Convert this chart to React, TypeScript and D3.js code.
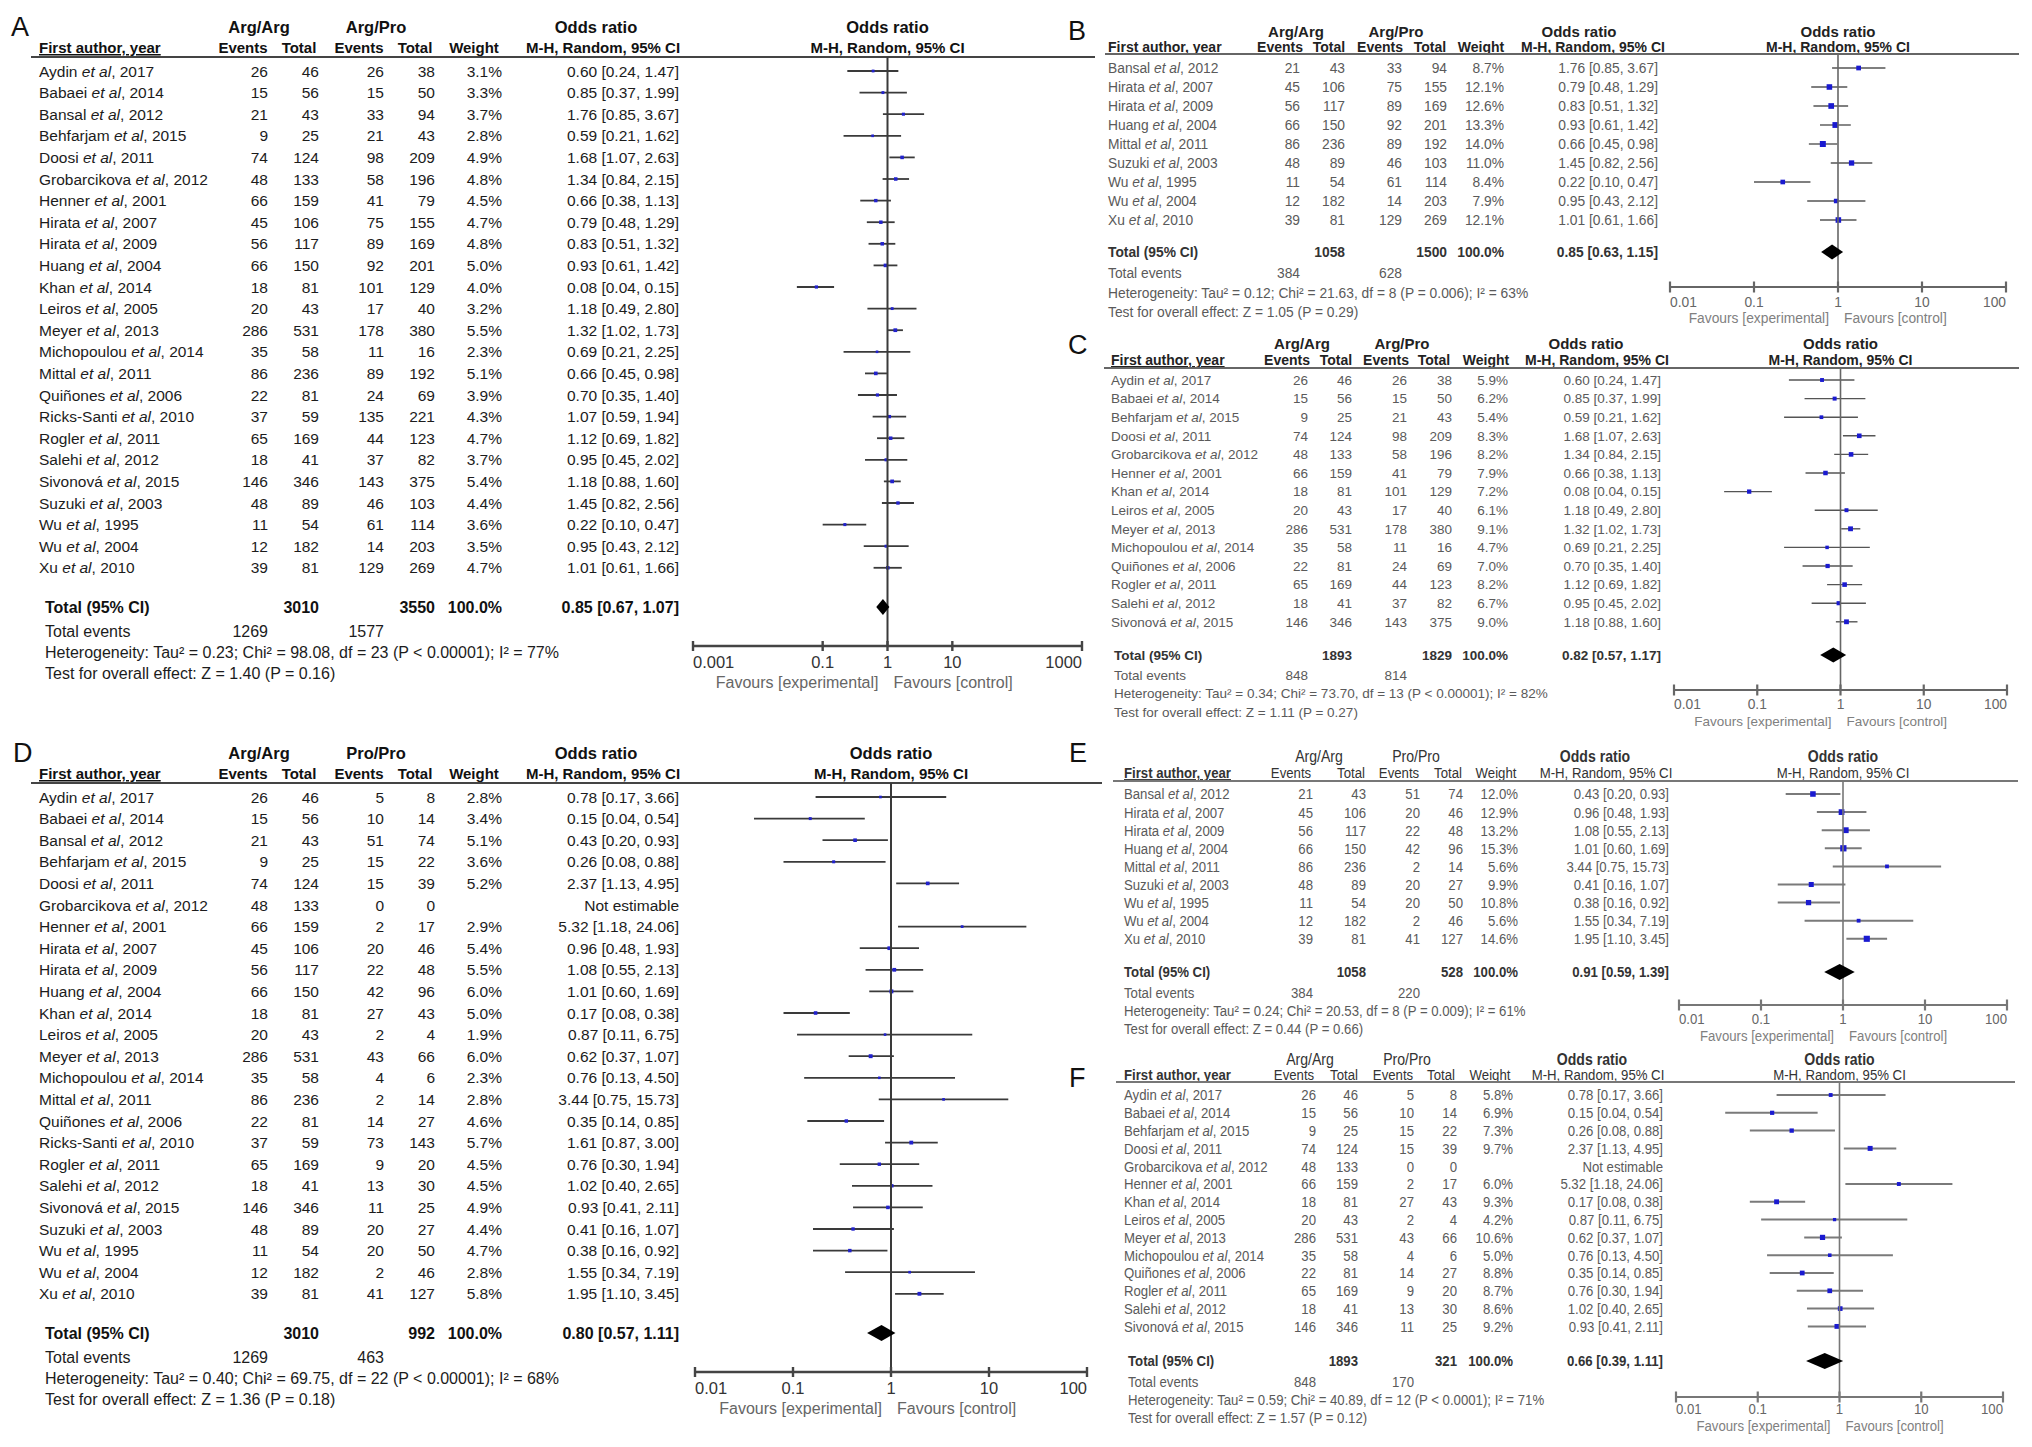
import React from 'react';
import * as d3 from 'd3';

// ---------- DATA ----------
// [author, year, events1, total1, events2, total2, weight%, OR, lower, upper]
type Row = [string, number, number, number, number, number, number | null, number | null, number | null, number | null];

const rowsA: Row[] = [
  ['Aydin', 2017, 26, 46, 26, 38, 3.1, 0.60, 0.24, 1.47],
  ['Babaei', 2014, 15, 56, 15, 50, 3.3, 0.85, 0.37, 1.99],
  ['Bansal', 2012, 21, 43, 33, 94, 3.7, 1.76, 0.85, 3.67],
  ['Behfarjam', 2015, 9, 25, 21, 43, 2.8, 0.59, 0.21, 1.62],
  ['Doosi', 2011, 74, 124, 98, 209, 4.9, 1.68, 1.07, 2.63],
  ['Grobarcikova', 2012, 48, 133, 58, 196, 4.8, 1.34, 0.84, 2.15],
  ['Henner', 2001, 66, 159, 41, 79, 4.5, 0.66, 0.38, 1.13],
  ['Hirata', 2007, 45, 106, 75, 155, 4.7, 0.79, 0.48, 1.29],
  ['Hirata', 2009, 56, 117, 89, 169, 4.8, 0.83, 0.51, 1.32],
  ['Huang', 2004, 66, 150, 92, 201, 5.0, 0.93, 0.61, 1.42],
  ['Khan', 2014, 18, 81, 101, 129, 4.0, 0.08, 0.04, 0.15],
  ['Leiros', 2005, 20, 43, 17, 40, 3.2, 1.18, 0.49, 2.80],
  ['Meyer', 2013, 286, 531, 178, 380, 5.5, 1.32, 1.02, 1.73],
  ['Michopoulou', 2014, 35, 58, 11, 16, 2.3, 0.69, 0.21, 2.25],
  ['Mittal', 2011, 86, 236, 89, 192, 5.1, 0.66, 0.45, 0.98],
  ['Quiñones', 2006, 22, 81, 24, 69, 3.9, 0.70, 0.35, 1.40],
  ['Ricks-Santi', 2010, 37, 59, 135, 221, 4.3, 1.07, 0.59, 1.94],
  ['Rogler', 2011, 65, 169, 44, 123, 4.7, 1.12, 0.69, 1.82],
  ['Salehi', 2012, 18, 41, 37, 82, 3.7, 0.95, 0.45, 2.02],
  ['Sivonová', 2015, 146, 346, 143, 375, 5.4, 1.18, 0.88, 1.60],
  ['Suzuki', 2003, 48, 89, 46, 103, 4.4, 1.45, 0.82, 2.56],
  ['Wu', 1995, 11, 54, 61, 114, 3.6, 0.22, 0.10, 0.47],
  ['Wu', 2004, 12, 182, 14, 203, 3.5, 0.95, 0.43, 2.12],
  ['Xu', 2010, 39, 81, 129, 269, 4.7, 1.01, 0.61, 1.66],
];
const totalsA = [3010, 3550, 100.0, 0.85, 0.67, 1.07];
const eventsA = [1269, 1577];
const hetA = 'Heterogeneity: Tau² = 0.23; Chi² = 98.08, df = 23 (P < 0.00001); I² = 77%';
const testA = 'Test for overall effect: Z = 1.40 (P = 0.16)';

const rowsB: Row[] = [
  ['Bansal', 2012, 21, 43, 33, 94, 8.7, 1.76, 0.85, 3.67],
  ['Hirata', 2007, 45, 106, 75, 155, 12.1, 0.79, 0.48, 1.29],
  ['Hirata', 2009, 56, 117, 89, 169, 12.6, 0.83, 0.51, 1.32],
  ['Huang', 2004, 66, 150, 92, 201, 13.3, 0.93, 0.61, 1.42],
  ['Mittal', 2011, 86, 236, 89, 192, 14.0, 0.66, 0.45, 0.98],
  ['Suzuki', 2003, 48, 89, 46, 103, 11.0, 1.45, 0.82, 2.56],
  ['Wu', 1995, 11, 54, 61, 114, 8.4, 0.22, 0.10, 0.47],
  ['Wu', 2004, 12, 182, 14, 203, 7.9, 0.95, 0.43, 2.12],
  ['Xu', 2010, 39, 81, 129, 269, 12.1, 1.01, 0.61, 1.66],
];
const totalsB = [1058, 1500, 100.0, 0.85, 0.63, 1.15];
const eventsB = [384, 628];
const hetB = 'Heterogeneity: Tau² = 0.12; Chi² = 21.63, df = 8 (P = 0.006); I² = 63%';
const testB = 'Test for overall effect: Z = 1.05 (P = 0.29)';

const rowsC: Row[] = [
  ['Aydin', 2017, 26, 46, 26, 38, 5.9, 0.60, 0.24, 1.47],
  ['Babaei', 2014, 15, 56, 15, 50, 6.2, 0.85, 0.37, 1.99],
  ['Behfarjam', 2015, 9, 25, 21, 43, 5.4, 0.59, 0.21, 1.62],
  ['Doosi', 2011, 74, 124, 98, 209, 8.3, 1.68, 1.07, 2.63],
  ['Grobarcikova', 2012, 48, 133, 58, 196, 8.2, 1.34, 0.84, 2.15],
  ['Henner', 2001, 66, 159, 41, 79, 7.9, 0.66, 0.38, 1.13],
  ['Khan', 2014, 18, 81, 101, 129, 7.2, 0.08, 0.04, 0.15],
  ['Leiros', 2005, 20, 43, 17, 40, 6.1, 1.18, 0.49, 2.80],
  ['Meyer', 2013, 286, 531, 178, 380, 9.1, 1.32, 1.02, 1.73],
  ['Michopoulou', 2014, 35, 58, 11, 16, 4.7, 0.69, 0.21, 2.25],
  ['Quiñones', 2006, 22, 81, 24, 69, 7.0, 0.70, 0.35, 1.40],
  ['Rogler', 2011, 65, 169, 44, 123, 8.2, 1.12, 0.69, 1.82],
  ['Salehi', 2012, 18, 41, 37, 82, 6.7, 0.95, 0.45, 2.02],
  ['Sivonová', 2015, 146, 346, 143, 375, 9.0, 1.18, 0.88, 1.60],
];
const totalsC = [1893, 1829, 100.0, 0.82, 0.57, 1.17];
const eventsC = [848, 814];
const hetC = 'Heterogeneity: Tau² = 0.34; Chi² = 73.70, df = 13 (P < 0.00001); I² = 82%';
const testC = 'Test for overall effect: Z = 1.11 (P = 0.27)';

const rowsD: Row[] = [
  ['Aydin', 2017, 26, 46, 5, 8, 2.8, 0.78, 0.17, 3.66],
  ['Babaei', 2014, 15, 56, 10, 14, 3.4, 0.15, 0.04, 0.54],
  ['Bansal', 2012, 21, 43, 51, 74, 5.1, 0.43, 0.20, 0.93],
  ['Behfarjam', 2015, 9, 25, 15, 22, 3.6, 0.26, 0.08, 0.88],
  ['Doosi', 2011, 74, 124, 15, 39, 5.2, 2.37, 1.13, 4.95],
  ['Grobarcikova', 2012, 48, 133, 0, 0, null, null, null, null],
  ['Henner', 2001, 66, 159, 2, 17, 2.9, 5.32, 1.18, 24.06],
  ['Hirata', 2007, 45, 106, 20, 46, 5.4, 0.96, 0.48, 1.93],
  ['Hirata', 2009, 56, 117, 22, 48, 5.5, 1.08, 0.55, 2.13],
  ['Huang', 2004, 66, 150, 42, 96, 6.0, 1.01, 0.60, 1.69],
  ['Khan', 2014, 18, 81, 27, 43, 5.0, 0.17, 0.08, 0.38],
  ['Leiros', 2005, 20, 43, 2, 4, 1.9, 0.87, 0.11, 6.75],
  ['Meyer', 2013, 286, 531, 43, 66, 6.0, 0.62, 0.37, 1.07],
  ['Michopoulou', 2014, 35, 58, 4, 6, 2.3, 0.76, 0.13, 4.50],
  ['Mittal', 2011, 86, 236, 2, 14, 2.8, 3.44, 0.75, 15.73],
  ['Quiñones', 2006, 22, 81, 14, 27, 4.6, 0.35, 0.14, 0.85],
  ['Ricks-Santi', 2010, 37, 59, 73, 143, 5.7, 1.61, 0.87, 3.00],
  ['Rogler', 2011, 65, 169, 9, 20, 4.5, 0.76, 0.30, 1.94],
  ['Salehi', 2012, 18, 41, 13, 30, 4.5, 1.02, 0.40, 2.65],
  ['Sivonová', 2015, 146, 346, 11, 25, 4.9, 0.93, 0.41, 2.11],
  ['Suzuki', 2003, 48, 89, 20, 27, 4.4, 0.41, 0.16, 1.07],
  ['Wu', 1995, 11, 54, 20, 50, 4.7, 0.38, 0.16, 0.92],
  ['Wu', 2004, 12, 182, 2, 46, 2.8, 1.55, 0.34, 7.19],
  ['Xu', 2010, 39, 81, 41, 127, 5.8, 1.95, 1.10, 3.45],
];
const totalsD = [3010, 992, 100.0, 0.80, 0.57, 1.11];
const eventsD = [1269, 463];
const hetD = 'Heterogeneity: Tau² = 0.40; Chi² = 69.75, df = 22 (P < 0.00001); I² = 68%';
const testD = 'Test for overall effect: Z = 1.36 (P = 0.18)';

const rowsE: Row[] = [
  ['Bansal', 2012, 21, 43, 51, 74, 12.0, 0.43, 0.20, 0.93],
  ['Hirata', 2007, 45, 106, 20, 46, 12.9, 0.96, 0.48, 1.93],
  ['Hirata', 2009, 56, 117, 22, 48, 13.2, 1.08, 0.55, 2.13],
  ['Huang', 2004, 66, 150, 42, 96, 15.3, 1.01, 0.60, 1.69],
  ['Mittal', 2011, 86, 236, 2, 14, 5.6, 3.44, 0.75, 15.73],
  ['Suzuki', 2003, 48, 89, 20, 27, 9.9, 0.41, 0.16, 1.07],
  ['Wu', 1995, 11, 54, 20, 50, 10.8, 0.38, 0.16, 0.92],
  ['Wu', 2004, 12, 182, 2, 46, 5.6, 1.55, 0.34, 7.19],
  ['Xu', 2010, 39, 81, 41, 127, 14.6, 1.95, 1.10, 3.45],
];
const totalsE = [1058, 528, 100.0, 0.91, 0.59, 1.39];
const eventsE = [384, 220];
const hetE = 'Heterogeneity: Tau² = 0.24; Chi² = 20.53, df = 8 (P = 0.009); I² = 61%';
const testE = 'Test for overall effect: Z = 0.44 (P = 0.66)';

const rowsF: Row[] = [
  ['Aydin', 2017, 26, 46, 5, 8, 5.8, 0.78, 0.17, 3.66],
  ['Babaei', 2014, 15, 56, 10, 14, 6.9, 0.15, 0.04, 0.54],
  ['Behfarjam', 2015, 9, 25, 15, 22, 7.3, 0.26, 0.08, 0.88],
  ['Doosi', 2011, 74, 124, 15, 39, 9.7, 2.37, 1.13, 4.95],
  ['Grobarcikova', 2012, 48, 133, 0, 0, null, null, null, null],
  ['Henner', 2001, 66, 159, 2, 17, 6.0, 5.32, 1.18, 24.06],
  ['Khan', 2014, 18, 81, 27, 43, 9.3, 0.17, 0.08, 0.38],
  ['Leiros', 2005, 20, 43, 2, 4, 4.2, 0.87, 0.11, 6.75],
  ['Meyer', 2013, 286, 531, 43, 66, 10.6, 0.62, 0.37, 1.07],
  ['Michopoulou', 2014, 35, 58, 4, 6, 5.0, 0.76, 0.13, 4.50],
  ['Quiñones', 2006, 22, 81, 14, 27, 8.8, 0.35, 0.14, 0.85],
  ['Rogler', 2011, 65, 169, 9, 20, 8.7, 0.76, 0.30, 1.94],
  ['Salehi', 2012, 18, 41, 13, 30, 8.6, 1.02, 0.40, 2.65],
  ['Sivonová', 2015, 146, 346, 11, 25, 9.2, 0.93, 0.41, 2.11],
];
const totalsF = [1893, 321, 100.0, 0.66, 0.39, 1.11];
const eventsF = [848, 170];
const hetF = 'Heterogeneity: Tau² = 0.59; Chi² = 40.89, df = 12 (P < 0.0001); I² = 71%';
const testF = 'Test for overall effect: Z = 1.57 (P = 0.12)';

const groupsArgPro = ['Arg/Arg', 'Arg/Pro'];
const groupsProPro = ['Arg/Arg', 'Pro/Pro'];
const ticksWide = [0.001, 0.1, 1, 10, 1000];
const ticksStd = [0.01, 0.1, 1, 10, 100];
const colHeaders = ['Events', 'Total', 'Events', 'Total', 'Weight'];
const favours = ['Favours [experimental]', 'Favours [control]'];

// ---------- LAYOUT ----------
type Style = {
  body: string; head: string; bold: string; fav: string; tick: string; ci: string; ciW: number;
  vline: string; vW: number; axis: string; axisW: number; marker: string; diamondH: number;
  groupW: string; colW: string;
};
const darkStyle: Style = {
  body: '#1c1c1c', head: '#111', bold: '#111', fav: '#666', tick: '#333', ci: '#3a3a3a', ciW: 1.8,
  vline: '#3a3a3a', vW: 2, axis: '#444', axisW: 2.4, marker: '#2222cc', diamondH: 8,
  groupW: 'bold', colW: 'bold',
};
const lightStyle: Style = {
  body: '#5a5a5a', head: '#222', bold: '#333', fav: '#808080', tick: '#666', ci: '#555', ciW: 1.4,
  vline: '#666', vW: 1.6, axis: '#666', axisW: 2.2, marker: '#1a1ad0', diamondH: 7.5,
  groupW: 'bold', colW: 'bold',
};
const greyStyle: Style = {
  ...lightStyle, ci: '#7a7a7a', ciW: 2, vline: '#777', axis: '#777', marker: '#1a1ad0', diamondH: 8,
  head: '#333', groupW: 'normal', colW: 'normal',
};

const layoutA = {
  label: 'A', lx: 11, ly: 36, lfs: 27,
  h1: 33, h2: 53, line: 57, lx0: 31, lx1: 1095,
  nameX: 39, footX: 45,
  cols: [268, 319, 384, 435, 502], ci: 679,
  hc: [243, 299, 359, 415, 474], mh: 603, g1: 259, g2: 376, or: 596,
  row0: 71, step: 21.6, totY: 607, evY: 631, hetY: 652, testY: 673,
  x0: 693, x1: 1082, axisY: 646, tickY: 668, favY: 688, tickLen: 5,
  fs: 15.5, footFs: 16, sx: 1, h1fs: 16.5, h2fs: 15, tickFs: 16.5, favFs: 16, style: darkStyle,
};
const dy = 726;
const layoutD = {
  ...layoutA, label: 'D', lx: 13, ly: layoutA.ly + dy,
  h1: layoutA.h1 + dy, h2: layoutA.h2 + dy, line: layoutA.line + dy, lx1: 1102,
  row0: layoutA.row0 + dy, totY: layoutA.totY + dy, evY: layoutA.evY + dy,
  hetY: layoutA.hetY + dy, testY: layoutA.testY + dy,
  x0: 695, x1: 1087, axisY: layoutA.axisY + dy, tickY: layoutA.tickY + dy, favY: layoutA.favY + dy,
};
const layoutB = {
  label: 'B', lx: 1068, ly: 40, lfs: 27,
  h1: 37, h2: 52, line: 54, lx0: 1105, lx1: 2019,
  nameX: 1108, footX: 1108,
  cols: [1300, 1345, 1402, 1447, 1504], ci: 1658,
  hc: [1280, 1329, 1380, 1430, 1481], mh: 1593, g1: 1296, g2: 1396, or: 1579,
  row0: 68, step: 19, totY: 252, evY: 273, hetY: 293, testY: 312,
  x0: 1670, x1: 2006, axisY: 287, tickY: 307, favY: 323, tickLen: 5.5,
  fs: 13.8, footFs: 13.8, sx: 1, h1fs: 15, h2fs: 14, tickFs: 13.8, favFs: 13.8, style: lightStyle,
};
const layoutC = {
  label: 'C', lx: 1068, ly: 354, lfs: 27,
  h1: 349, h2: 365, line: 368, lx0: 1104, lx1: 2019,
  nameX: 1111, footX: 1114,
  cols: [1308, 1352, 1407, 1452, 1508], ci: 1661,
  hc: [1287, 1336, 1386, 1434, 1486], mh: 1597, g1: 1302, g2: 1402, or: 1586,
  row0: 380, step: 18.6, totY: 655, evY: 675, hetY: 693, testY: 712,
  x0: 1674, x1: 2007, axisY: 690, tickY: 709, favY: 726, tickLen: 5.5,
  fs: 13.5, footFs: 13.5, sx: 1, h1fs: 15, h2fs: 14, tickFs: 13.8, favFs: 13.5, style: lightStyle,
};
const layoutE = {
  label: 'E', lx: 1069, ly: 762, lfs: 27,
  h1: 762, h2: 778, line: 781, lx0: 1113, lx1: 2018,
  nameX: 1124, footX: 1124,
  cols: [1313, 1366, 1420, 1463, 1518], ci: 1669,
  hc: [1291, 1351, 1399, 1448, 1496], mh: 1606, g1: 1319, g2: 1416, or: 1595,
  row0: 794, step: 18.1, totY: 972, evY: 993, hetY: 1011, testY: 1029,
  x0: 1679, x1: 2007, axisY: 1005, tickY: 1024, favY: 1041, tickLen: 5.5,
  fs: 15, footFs: 15, sx: 0.88, h1fs: 16, h2fs: 15, tickFs: 15, favFs: 15, style: greyStyle,
};
const layoutF = {
  label: 'F', lx: 1069, ly: 1087, lfs: 27,
  h1: 1065, h2: 1080, line: 1082, lx0: 1116, lx1: 2015,
  nameX: 1124, footX: 1128,
  cols: [1316, 1358, 1414, 1457, 1513], ci: 1663,
  hc: [1294, 1344, 1393, 1441, 1490], mh: 1598, g1: 1310, g2: 1407, or: 1592,
  row0: 1095, step: 17.8, totY: 1361, evY: 1382, hetY: 1400, testY: 1418,
  x0: 1676, x1: 2003, axisY: 1397, tickY: 1414, favY: 1431, tickLen: 5.5,
  fs: 15, footFs: 15, sx: 0.88, h1fs: 16, h2fs: 15, tickFs: 15, favFs: 15, style: greyStyle,
};

type Layout = typeof layoutB;

// ---------- COMPONENTS ----------
function T(props: {
  x: number; y: number; a?: 'start' | 'middle' | 'end'; fs: number; sx?: number; w?: string;
  c: string; deco?: string; children: React.ReactNode;
}) {
  const { x, y, a = 'start', fs, sx = 1, w = 'normal', c, deco, children } = props;
  return (
    <text transform={`translate(${x},${y}) scale(${sx},1)`} textAnchor={a} fontSize={fs}
      fontWeight={w} fill={c} textDecoration={deco}>{children}</text>
  );
}

const f2 = d3.format('.2f');
const f1 = d3.format('.1f');

function Panel(props: {
  L: Layout; rows: Row[]; totals: number[]; events: number[]; het: string; test: string;
  groups: string[]; ticks: number[];
}) {
  const { L, rows, totals, events, het, test, groups, ticks } = props;
  const S: Style = (L as any).style;
  const x = d3.scaleLog().domain([ticks[0], ticks[ticks.length - 1]]).range([L.x0, L.x1]);
  const y = d3.scaleLinear().domain([0, 1]).range([L.row0, L.row0 + L.step]);
  const bl = (c: number, f = L.fs) => c + f * 0.36;
  const ff = L.footFs;
  const one = x(1);
  const pc = (L.x0 + L.x1) / 2;
  const diamond = d3.line()([
    [x(totals[4]), L.totY], [x(totals[3]), L.totY - S.diamondH],
    [x(totals[5]), L.totY], [x(totals[3]), L.totY + S.diamondH],
  ]) + 'Z';

  return (
    <g>
      <T x={L.lx} y={L.ly} fs={L.lfs} c="#111">{L.label}</T>
      {/* header row 1 */}
      <T x={L.g1} y={L.h1} a="middle" fs={L.h1fs} w={S.groupW} c={S.head} sx={L.sx}>{groups[0]}</T>
      <T x={L.g2} y={L.h1} a="middle" fs={L.h1fs} w={S.groupW} c={S.head} sx={L.sx}>{groups[1]}</T>
      <T x={L.or} y={L.h1} a="middle" fs={L.h1fs} w="bold" c={S.head} sx={L.sx}>Odds ratio</T>
      <T x={pc} y={L.h1} a="middle" fs={L.h1fs} w="bold" c={S.head} sx={L.sx}>Odds ratio</T>
      {/* header row 2 */}
      <T x={L.nameX} y={L.h2} fs={L.h2fs} w="bold" c={S.head} sx={L.sx} deco="underline">First author, year</T>
      {colHeaders.map((h, i) => (
        <T key={i} x={L.hc[i]} y={L.h2} a="middle" fs={L.h2fs} w={S.colW} c={S.head} sx={L.sx}>{h}</T>
      ))}
      <T x={L.mh} y={L.h2} a="middle" fs={L.h2fs} w={S.colW} c={S.head} sx={L.sx}>M-H, Random, 95% CI</T>
      <T x={pc} y={L.h2} a="middle" fs={L.h2fs} w={S.colW} c={S.head} sx={L.sx}>M-H, Random, 95% CI</T>
      <line x1={L.lx0} x2={L.lx1} y1={L.line} y2={L.line} stroke={S.axis} strokeWidth={2} />

      {/* study rows */}
      {rows.map((r, i) => {
        const yy = y(i);
        const [au, yr, e1, t1, e2, t2, w, or, lo, hi] = r;
        const vals = [e1, t1, e2, t2];
        return (
          <g key={i}>
            <text transform={`translate(${L.nameX},${bl(yy)}) scale(${L.sx},1)`} fontSize={L.fs} fill={S.body}>
              {au + ' '}<tspan fontStyle="italic">et al</tspan>{', ' + yr}
            </text>
            {vals.map((v, j) => (
              <T key={j} x={L.cols[j]} y={bl(yy)} a="end" fs={L.fs} c={S.body} sx={L.sx}>{String(v)}</T>
            ))}
            {w !== null && (
              <T x={L.cols[4]} y={bl(yy)} a="end" fs={L.fs} c={S.body} sx={L.sx}>{f1(w) + '%'}</T>
            )}
            <T x={L.ci} y={bl(yy)} a="end" fs={L.fs} c={S.body} sx={L.sx}>
              {or === null ? 'Not estimable' : `${f2(or)} [${f2(lo as number)}, ${f2(hi as number)}]`}
            </T>
            {or !== null && (
              <g>
                <line x1={x(lo as number)} x2={x(hi as number)} y1={yy} y2={yy} stroke={S.ci} strokeWidth={S.ciW} />
                {(() => {
                  const s = Math.max(2.6, 1.6 * Math.sqrt(w as number));
                  return <rect x={x(or) - s / 2} y={yy - s / 2} width={s} height={s} fill={S.marker} />;
                })()}
              </g>
            )}
          </g>
        );
      })}

      {/* totals */}
      <T x={L.footX} y={bl(L.totY, ff)} fs={ff} w="bold" c={S.bold} sx={L.sx}>Total (95% CI)</T>
      <T x={L.cols[1]} y={bl(L.totY, ff)} a="end" fs={ff} w="bold" c={S.bold} sx={L.sx}>{String(totals[0])}</T>
      <T x={L.cols[3]} y={bl(L.totY, ff)} a="end" fs={ff} w="bold" c={S.bold} sx={L.sx}>{String(totals[1])}</T>
      <T x={L.cols[4]} y={bl(L.totY, ff)} a="end" fs={ff} w="bold" c={S.bold} sx={L.sx}>{f1(totals[2]) + '%'}</T>
      <T x={L.ci} y={bl(L.totY, ff)} a="end" fs={ff} w="bold" c={S.bold} sx={L.sx}>
        {`${f2(totals[3])} [${f2(totals[4])}, ${f2(totals[5])}]`}
      </T>
      <T x={L.footX} y={bl(L.evY, ff)} fs={ff} c={S.body} sx={L.sx}>Total events</T>
      <T x={L.cols[0]} y={bl(L.evY, ff)} a="end" fs={ff} c={S.body} sx={L.sx}>{String(events[0])}</T>
      <T x={L.cols[2]} y={bl(L.evY, ff)} a="end" fs={ff} c={S.body} sx={L.sx}>{String(events[1])}</T>
      <T x={L.footX} y={bl(L.hetY, ff)} fs={ff} c={S.body} sx={L.sx}>{het}</T>
      <T x={L.footX} y={bl(L.testY, ff)} fs={ff} c={S.body} sx={L.sx}>{test}</T>

      {/* plot */}
      <line x1={one} x2={one} y1={L.line} y2={L.axisY} stroke={S.vline} strokeWidth={S.vW} />
      <path d={diamond} fill="#000" />
      <line x1={L.x0} x2={L.x1} y1={L.axisY} y2={L.axisY} stroke={S.axis} strokeWidth={S.axisW} />
      {ticks.map((t, i) => (
        <g key={i}>
          <line x1={x(t)} x2={x(t)} y1={L.axisY - L.tickLen} y2={L.axisY + L.tickLen} stroke={S.axis} strokeWidth={S.axisW} />
          <T x={x(t)} y={L.tickY} a={i === 0 ? 'start' : i === ticks.length - 1 ? 'end' : 'middle'}
            fs={L.tickFs} c={S.tick} sx={L.sx}>{String(t)}</T>
        </g>
      ))}
      <T x={one - 9} y={L.favY} a="end" fs={L.favFs} c={S.fav} sx={L.sx}>{favours[0]}</T>
      <T x={one + 6} y={L.favY} fs={L.favFs} c={S.fav} sx={L.sx}>{favours[1]}</T>
    </g>
  );
}

export default function App() {
  return (
    <svg width={2032} height={1447} viewBox="0 0 2032 1447"
      style={{ position: 'absolute', left: 0, top: 0, background: '#fff' }}
      fontFamily="'Liberation Sans', Arial, Helvetica, sans-serif">
      <rect width={2032} height={1447} fill="#fff" />
      <Panel L={layoutA as any} rows={rowsA} totals={totalsA} events={eventsA} het={hetA} test={testA} groups={groupsArgPro} ticks={ticksWide} />
      <Panel L={layoutB} rows={rowsB} totals={totalsB} events={eventsB} het={hetB} test={testB} groups={groupsArgPro} ticks={ticksStd} />
      <Panel L={layoutC} rows={rowsC} totals={totalsC} events={eventsC} het={hetC} test={testC} groups={groupsArgPro} ticks={ticksStd} />
      <Panel L={layoutD as any} rows={rowsD} totals={totalsD} events={eventsD} het={hetD} test={testD} groups={groupsProPro} ticks={ticksStd} />
      <Panel L={layoutE} rows={rowsE} totals={totalsE} events={eventsE} het={hetE} test={testE} groups={groupsProPro} ticks={ticksStd} />
      <Panel L={layoutF} rows={rowsF} totals={totalsF} events={eventsF} het={hetF} test={testF} groups={groupsProPro} ticks={ticksStd} />
    </svg>
  );
}
